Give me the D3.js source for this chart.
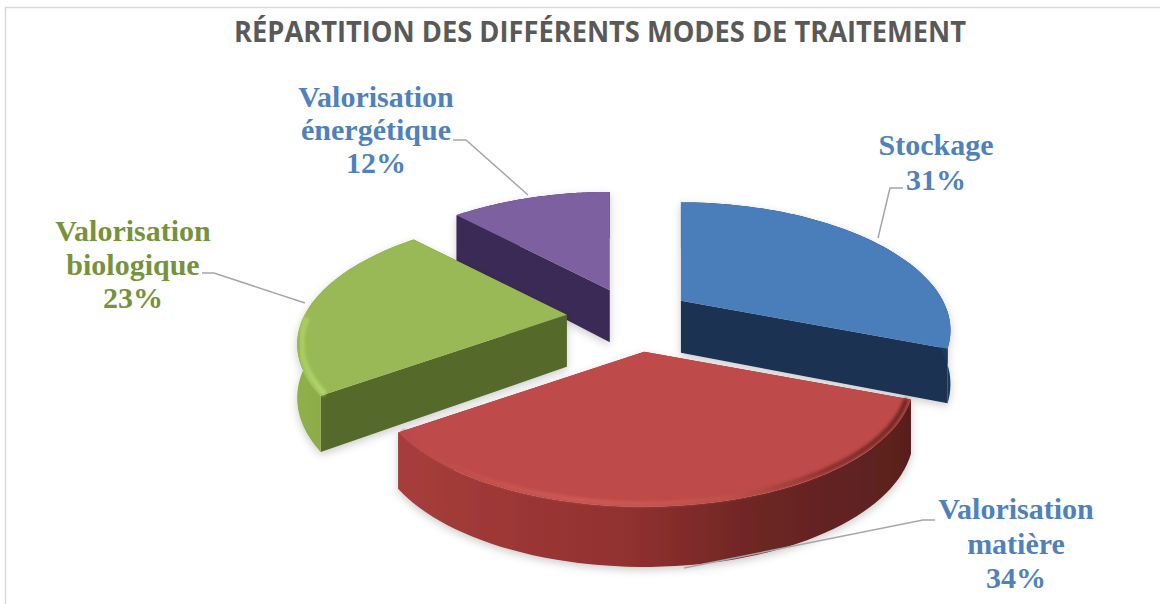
<!DOCTYPE html>
<html><head><meta charset="utf-8">
<script src="https://cdn.jsdelivr.net/npm/d3@7"></script>
<style>html,body{margin:0;padding:0;background:#fff}svg{display:block}</style>
</head><body><div id="chart"></div>
<script>
const categories=["Stockage","Valorisation matière","Valorisation biologique","Valorisation énergétique"];
const values=[31,34,23,12];
const labelLines=[["Stockage","31%"],["Valorisation","matière","34%"],["Valorisation","biologique","23%"],["Valorisation","énergétique","12%"]];
const topColors=["#4a7ebb","#be4b48","#98b954","#7d60a0"];
const faceColors=["#1a3252","#7a2a28","#556a2c","#3a2a56"];
const labelColors=["#4f81bd","#4f81bd","#76923c","#4f81bd"];
const explode=[.235,.22,.235,.22];
const title="RÉPARTITION DES DIFFÉRENTS MODES DE TRAITEMENT";
const W=1160,H=604;
const cx=630,cy=320,k=.235,kBack=.205,depth=52;
const nudge=[[0,0],[7,0],[-2,-2],[1,0]];
const sx=d3.scaleLinear().domain([-1,1]).range([-262,262]);
const sy=d3.scaleLinear().domain([-1,1]).range([118.6,-118.6]);
const ex=d3.scaleLinear().domain([-1,1]).range([cx-262,cx+262]);
const ey=d3.scaleLinear().domain([-1,1]).range([cy+145,cy-145]);
const svg=d3.select("#chart").append("svg").attr("width",W).attr("height",H);
const defs=svg.append("defs");
const f=defs.append("filter").attr("id","sh").attr("x","-10%").attr("y","-10%").attr("width","120%").attr("height","125%");
f.append("feDropShadow").attr("dx",0).attr("dy",3).attr("stdDeviation",4).attr("flood-color","#000").attr("flood-opacity",.2);
const b=defs.append("filter").attr("id","bl").attr("x","-5%").attr("y","-20%").attr("width","110%").attr("height","140%");
b.append("feGaussianBlur").attr("stdDeviation",1.8);
function grad(id,stops){const g=defs.append("linearGradient").attr("id",id);
 stops.forEach(s=>g.append("stop").attr("offset",s[0]).attr("stop-color",s[1]));}
grad("wall0",[[0,"#1a3252"],[1,"#1f3a5f"]]);
grad("wall1",[[0,"#a63e3b"],[.45,"#91302f"],[.7,"#6d2624"],[1,"#591f1e"]]);
grad("wall2",[[0,"#8fb04a"],[1,"#7f9f40"]]);
grad("wall3",[[0,"#3a2a56"],[1,"#3a2a56"]]);
grad("bev1",[[0,"#b84a47"],[.35,"#cf5a55"],[.65,"#c24f4b"],[.85,"#8a302e"],[1,"#6d2624"]]);
grad("bev2",[[0,"#a9cd62"],[1,"#b2d56c"]]);

const line=d3.line();
svg.append("path").attr("d",line([[5.5,H],[5.5,7.5],[W,7.5]])).attr("fill","none").attr("stroke","#d9d9d9").attr("stroke-width",1.4);
svg.append("text").attr("x",600).attr("y",41.5).attr("text-anchor","middle").attr("font-family","'Open Sans'").attr("font-weight",700).attr("font-size",28).attr("fill","#595959").attr("textLength",732).attr("lengthAdjust","spacingAndGlyphs").text(title);

const pie=d3.pie().sort(null).startAngle(0).endAngle(2*Math.PI);
const arcs=pie(values);
function geom(a,i){
 const mid=(a.startAngle+a.endAngle)/2,e=explode[i];
 const ax=ex(e*Math.sin(mid))+nudge[i][0],ay=ey(e*Math.cos(mid))+nudge[i][1];
 const P=(t,r,d)=>{const X=r*Math.sin(t),Z=r*Math.cos(t),s=1/(1+k*Z),sv=1/(1+(Z>0?kBack:k)*Z);
   return [ax+sx(X*s),ay+sy(Z*sv)+(d?depth*Math.pow(s,.55):0)];};
 const ts=d3.range(0,61).map(j=>a.startAngle+(a.endAngle-a.startAngle)*j/60);
 return {P,ts,a0:a.startAngle,a1:a.endAngle};
}
const order=[3,0,2,1];
order.forEach(i=>{
 const g=geom(arcs[i],i),P=g.P,ts=g.ts;
 const G=svg.append("g").attr("class","slice").attr("filter","url(#sh)");
 const face=t=>[P(t,0,0),P(t,1,0),P(t,1,1),P(t,0,1)];
 G.append("path").attr("d",line(face(g.a0))+"Z").attr("fill",faceColors[i]);
 G.append("path").attr("d",line(face(g.a1))+"Z").attr("fill",faceColors[i]);
 const wall=ts.map(t=>P(t,1,0)).concat(ts.slice().reverse().map(t=>P(t,1,1)));
 G.append("path").attr("d",line(wall)+"Z").attr("fill",`url(#wall${i})`);
 const top=[P(g.a0,0,0)].concat(ts.map(t=>P(t,1,0)));
 G.append("path").attr("d",line(top)+"Z").attr("fill",topColors[i]);
 if(i===1||i===2){
  const part=i===1?ts:ts.slice(0,26);
  const rim=part.map(t=>P(t,.985,0));
  G.append("path").attr("d",line(rim)).attr("fill","none").attr("stroke",`url(#bev${i})`).attr("stroke-width",i===1?5:6).attr("filter","url(#bl)");
 }
});
const leaders=[
 [[903,188],[890,188],[878,238]],
 [[935,520],[923,520],[684,568]],
 [[202,273],[214,273],[305,303]],
 [[453,140],[466,140],[528,195]]];
leaders.forEach(p=>svg.append("path").attr("d",line(p)).attr("fill","none").attr("stroke","#a6a6a6").attr("stroke-width",1.5));
const labelPos=[[936,155],[1016,519],[133,241],[376,107]];
const lh=[35,34.5,33.5,33];
labelLines.forEach((ls,i)=>{
 const t=svg.append("text").attr("text-anchor","middle").attr("font-family","'Liberation Serif'").attr("font-weight",700).attr("font-size",30).attr("fill",labelColors[i]);
 ls.forEach((s,j)=>t.append("tspan").attr("x",labelPos[i][0]).attr("y",labelPos[i][1]+j*lh[i]).text(s));
});
</script></body></html>
